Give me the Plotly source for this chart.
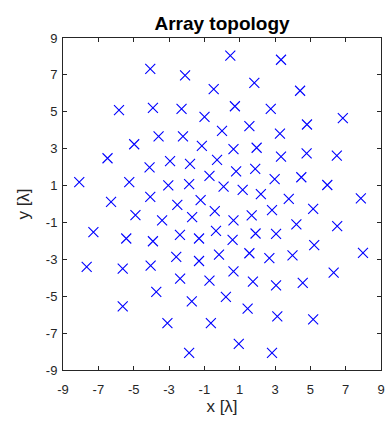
import plotly.graph_objects as go

# Element positions of the planar array, in wavelengths
x_pos = [-4.06, -2.09, -0.47, -5.83, -3.91, -2.29, -0.99, 0.00, -4.97, -3.59,
         -2.21, -1.14, -6.48, -2.94, -4.10, -1.81, -0.28, -0.71, -8.08, -5.25,
         -3.04, -1.86, 0.09, -6.28, -4.06, -2.53, -1.21, 0.47, 3.34, 1.83,
         4.42, 0.73, 2.76, 6.84, 1.55, 3.28, 4.81, 0.65, 1.96, 3.34,
         4.79, 6.50, 0.80, 1.88, 2.98, 4.49, 5.96, 1.17, 2.20, 3.78,
         7.86, -0.41, -4.90, -3.39, -1.69, -7.28, -5.42, -3.91, -2.38, -1.30,
         -0.34, -7.66, -5.62, -4.04, -2.59, -1.30, -0.17, -2.37, -0.71, -3.72,
         -5.62, -1.71, -3.09, -0.63, -1.86, 0.65, 1.68, 2.83, 5.16, 0.60,
         1.90, 3.06, 4.21, 6.52, 1.55, 2.68, 3.99, 5.22, 7.98, 0.65,
         1.75, 3.06, 4.57, 6.32, 0.22, 1.45, 3.13, 5.16, 0.95, 2.83]
y_pos = [7.33, 6.97, 6.23, 5.09, 5.21, 5.16, 4.72, 3.96, 3.24, 3.67,
         3.67, 3.15, 2.48, 2.33, 1.99, 2.17, 2.39, 1.52, 1.19, 1.19,
         1.01, 1.08, 0.94, 0.12, 0.39, -0.05, 0.21, 8.05, 7.82, 6.57,
         6.14, 5.30, 5.16, 4.65, 4.22, 3.82, 4.31, 2.98, 3.05, 2.57,
         2.75, 2.62, 1.77, 1.91, 1.35, 1.45, 1.03, 0.77, 0.54, 0.28,
         0.30, -0.39, -0.60, -0.89, -0.71, -1.53, -1.87, -2.02, -1.67, -1.87,
         -1.46, -3.41, -3.50, -3.34, -2.87, -3.09, -2.75, -4.04, -4.15, -4.77,
         -5.55, -5.28, -6.46, -6.46, -8.07, -0.89, -0.62, -0.33, -0.26, -1.95,
         -1.60, -1.62, -1.11, -1.20, -2.67, -2.94, -2.79, -2.23, -2.65, -3.65,
         -4.21, -4.41, -4.28, -3.72, -5.04, -5.67, -6.09, -6.26, -7.58, -8.07]

tick_vals = [-9, -7, -5, -3, -1, 1, 3, 5, 7, 9]
tick_text = [str(v) for v in tick_vals]

font_family = "Liberation Sans, Arial, Helvetica, sans-serif"
axis_color = "#262626"
marker_blue = "#0000FF"

fig = go.Figure(
    go.Scatter(
        x=x_pos, y=y_pos, mode="markers", hoverinfo="skip",
        marker=dict(symbol="x-thin-open", size=10,
                    color=[marker_blue] * len(x_pos),
                    line=dict(color=[marker_blue] * len(x_pos), width=1.1)),
    )
)

axis_common = dict(
    range=[-9, 9], tickvals=tick_vals, ticktext=tick_text,
    showgrid=False, zeroline=False, showline=True, linecolor=axis_color,
    linewidth=1, mirror="ticks", ticks="inside", ticklen=4, tickcolor=axis_color,
    tickfont=dict(family=font_family, size=13, color=axis_color),
)

fig.update_layout(
    width=389, height=424,
    margin=dict(l=63, r=4, t=38, b=54),
    paper_bgcolor="white", plot_bgcolor="white",
    showlegend=False,
    title=dict(text="<b>Array topology</b>", x=0.5, xref="paper",
               y=1, yref="paper", yanchor="bottom", pad=dict(b=8),
               font=dict(family=font_family, size=19, color="black")),
    xaxis=dict(**axis_common, ticklabelstandoff=7,
               title=dict(text="x [λ]", standoff=4,
                          font=dict(family=font_family, size=17, color=axis_color))),
    yaxis=dict(**axis_common, ticklabelstandoff=2,
               title=dict(text="y [λ]", standoff=11,
                          font=dict(family=font_family, size=17, color=axis_color))),
)

fig.write_html("out.html")
